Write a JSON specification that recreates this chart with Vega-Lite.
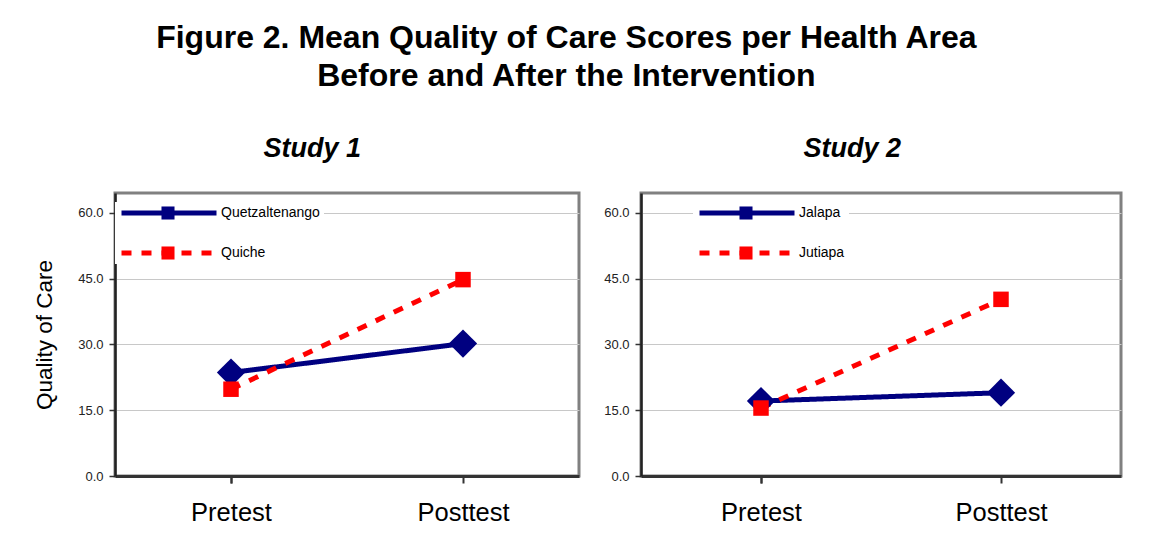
{
  "$schema": "https://vega.github.io/schema/vega-lite/v6.json",
  "background": "white",
  "padding": {"left": 32, "top": 21, "right": 10, "bottom": 18},
  "title": {
    "text": ["Figure 2. Mean Quality of Care Scores per Health Area", "Before and After the Intervention"],
    "font": "Liberation Sans", "fontSize": 32, "fontWeight": "bold", "lineHeight": 38,
    "anchor": "middle", "offset": 41, "dx": -11, "color": "black"
  },
  "config": {
    "font": "Liberation Sans",
    "view": {"stroke": "#808080", "strokeWidth": 3},
    "axisX": {
      "title": null, "labelFontSize": 25.5, "labelColor": "black", "labelAngle": 0,
      "tickBand": "extent", "tickSize": 7, "tickColor": "#333333", "tickWidth": 2,
      "domainColor": "#333333", "domainWidth": 3, "labelPadding": 17, "grid": false
    },
    "axisY": {
      "titleFontSize": 22.5, "titleFontWeight": "normal", "titleColor": "black", "titlePadding": 21,
      "labelFontSize": 13, "labelColor": "#222222", "labelPadding": 6,
      "grid": true, "gridColor": "#c8c8c8", "gridWidth": 1,
      "tickSize": 6, "tickColor": "#333333", "tickWidth": 1.5,
      "domainColor": "#222222", "domainWidth": 2.5
    },
    "legend": {"labelFont": "Liberation Sans"}
  },
  "spacing": 21,
  "resolve": {
    "scale": {"stroke": "independent", "strokeDash": "independent", "fill": "independent", "shape": "independent", "size": "independent", "y": "shared"},
    "legend": {"stroke": "independent", "strokeDash": "independent", "fill": "independent", "shape": "independent"}
  },
  "hconcat": [
    {
      "width": 464, "height": 283,
      "title": {"text": "Study 1", "fontSize": 27, "fontWeight": "bold", "fontStyle": "italic", "frame": "bounds", "anchor": "middle", "offset": 30, "dx": 6, "color": "black"},
      "data": {"values": [
        {"area": "Quetzaltenango", "test": "Pretest", "score": 23.6},
        {"area": "Quetzaltenango", "test": "Posttest", "score": 30.2},
        {"area": "Quiche", "test": "Pretest", "score": 19.8},
        {"area": "Quiche", "test": "Posttest", "score": 44.8}
      ]},
      "layer": [
        {
          "mark": {"type": "line", "strokeWidth": 5},
          "encoding": {
            "x": {"field": "test", "type": "nominal", "sort": ["Pretest", "Posttest"], "scale": {"paddingInner": 0, "paddingOuter": 0}},
            "y": {"field": "score", "type": "quantitative", "scale": {"domain": [0, 64.56], "nice": false, "zero": true},
                  "axis": {"title": "Quality of Care", "values": [0, 15, 30, 45, 60], "format": ".1f"}},
            "stroke": {"field": "area", "type": "nominal", "scale": {"range": ["#000080", "#ff0000"]},
              "legend": {"orient": "none", "legendX": 0, "legendY": 9, "title": null, "symbolType": "stroke",
                "symbolSize": 9025, "symbolStrokeWidth": 5, "clipHeight": 14, "rowPadding": 26, "labelOffset": 2,
                "labelFontSize": 14, "labelColor": "black", "fillColor": "white", "padding": 4}},
            "strokeDash": {"field": "area", "type": "nominal", "scale": {"range": [[1, 0], [10, 10]]},
              "legend": {"orient": "none", "legendX": 0, "legendY": 9, "title": null, "symbolType": "stroke",
                "symbolSize": 9025, "symbolStrokeWidth": 5, "clipHeight": 14, "rowPadding": 26, "labelOffset": 2,
                "labelFontSize": 14, "labelColor": "black", "fillColor": "white", "padding": 4}}
          }
        },
        {
          "mark": {"type": "point", "filled": true, "opacity": 1},
          "encoding": {
            "x": {"field": "test", "type": "nominal", "sort": ["Pretest", "Posttest"]},
            "y": {"field": "score", "type": "quantitative"},
            "fill": {"field": "area", "type": "nominal", "sort": ["Quetzaltenango", "Quiche"], "scale": {"range": ["#000080", "#ff0000"]},
              "legend": {"orient": "none", "legendX": 46, "legendY": 12, "title": null, "symbolType": "square", "symbolSize": 170,
                "clipHeight": 16, "rowPadding": 24, "labelExpr": "''", "padding": 0, "symbolStrokeWidth": 0, "symbolStrokeColor": "transparent"}},
            "shape": {"field": "area", "type": "nominal", "sort": ["Quetzaltenango", "Quiche"], "scale": {"range": ["diamond", "square"]}, "legend": null},
            "size": {"field": "area", "type": "ordinal", "scale": {"range": [800, 240]}, "legend": null}
          }
        }
      ]
    },
    {
      "width": 480, "height": 283,
      "title": {"text": "Study 2", "fontSize": 27, "fontWeight": "bold", "fontStyle": "italic", "frame": "bounds", "anchor": "middle", "offset": 30, "dx": -10, "color": "black"},
      "data": {"values": [
        {"area": "Jalapa", "test": "Pretest", "score": 17.1},
        {"area": "Jalapa", "test": "Posttest", "score": 19.0},
        {"area": "Jutiapa", "test": "Pretest", "score": 15.5},
        {"area": "Jutiapa", "test": "Posttest", "score": 40.3}
      ]},
      "layer": [
        {
          "mark": {"type": "line", "strokeWidth": 5},
          "encoding": {
            "x": {"field": "test", "type": "nominal", "sort": ["Pretest", "Posttest"], "scale": {"paddingInner": 0, "paddingOuter": 0}},
            "y": {"field": "score", "type": "quantitative", "scale": {"domain": [0, 64.56], "nice": false, "zero": true},
                  "axis": {"title": null, "values": [0, 15, 30, 45, 60], "format": ".1f"}},
            "stroke": {"field": "area", "type": "nominal", "scale": {"range": ["#000080", "#ff0000"]},
              "legend": {"orient": "none", "legendX": 52, "legendY": 9, "title": null, "symbolType": "stroke",
                "symbolSize": 9025, "symbolStrokeWidth": 5, "clipHeight": 14, "rowPadding": 26, "labelOffset": 2,
                "labelFontSize": 14, "labelColor": "black", "fillColor": "white", "padding": 4}},
            "strokeDash": {"field": "area", "type": "nominal", "scale": {"range": [[1, 0], [10, 10]]},
              "legend": {"orient": "none", "legendX": 52, "legendY": 9, "title": null, "symbolType": "stroke",
                "symbolSize": 9025, "symbolStrokeWidth": 5, "clipHeight": 14, "rowPadding": 26, "labelOffset": 2,
                "labelFontSize": 14, "labelColor": "black", "fillColor": "white", "padding": 4}}
          }
        },
        {
          "mark": {"type": "point", "filled": true, "opacity": 1},
          "encoding": {
            "x": {"field": "test", "type": "nominal", "sort": ["Pretest", "Posttest"]},
            "y": {"field": "score", "type": "quantitative"},
            "fill": {"field": "area", "type": "nominal", "sort": ["Jalapa", "Jutiapa"], "scale": {"range": ["#000080", "#ff0000"]},
              "legend": {"orient": "none", "legendX": 98, "legendY": 12, "title": null, "symbolType": "square", "symbolSize": 170,
                "clipHeight": 16, "rowPadding": 24, "labelExpr": "''", "padding": 0, "symbolStrokeWidth": 0, "symbolStrokeColor": "transparent"}},
            "shape": {"field": "area", "type": "nominal", "sort": ["Jalapa", "Jutiapa"], "scale": {"range": ["diamond", "square"]}, "legend": null},
            "size": {"field": "area", "type": "ordinal", "scale": {"range": [800, 240]}, "legend": null}
          }
        }
      ]
    }
  ]
}
